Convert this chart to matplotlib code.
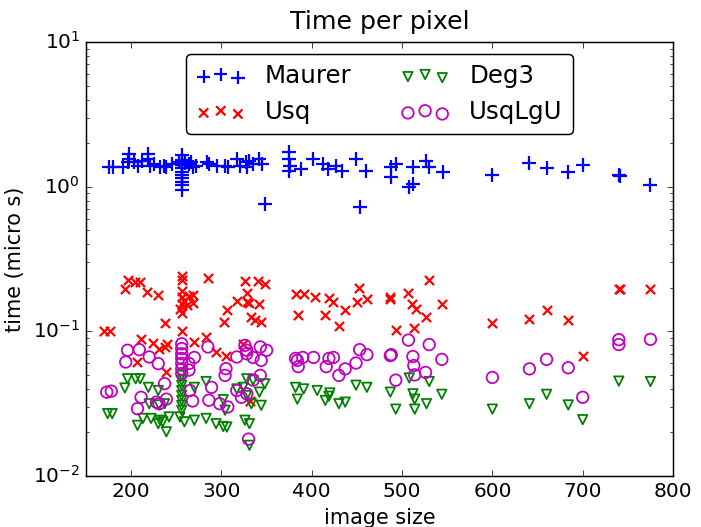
import matplotlib
matplotlib.use('Agg')
import matplotlib.pyplot as plt

# image size / time per pixel (micro s)
maurer_x = [175, 180, 191, 198, 198, 197, 203, 208, 212, 219, 219, 221, 225, 232, 236, 239, 245,
            256, 256, 256, 256, 256, 256, 256, 256, 256, 256, 253, 260, 264, 266, 269, 272,
            284, 286, 295, 304, 307, 317, 320, 327, 328, 331, 335, 342, 345, 348,
            375, 375, 376, 375, 388, 401, 412, 418, 427, 434, 449, 453, 460,
            488, 488, 493, 512, 508, 512, 527, 530, 545, 600, 641, 660, 684, 700, 740, 741, 775]
maurer_y = [1.37, 1.37, 1.37, 1.68, 1.55, 1.47, 1.47, 1.40, 1.51, 1.68, 1.55, 1.40, 1.43, 1.36, 1.40, 1.36, 1.43,
            1.66, 1.53, 1.41, 1.34, 1.27, 1.20, 1.14, 1.08, 1.03, 0.95, 1.47, 1.45, 1.43, 1.47, 1.36, 1.40,
            1.47, 1.43, 1.40, 1.40, 1.36, 1.55, 1.40, 1.47, 1.36, 1.51, 1.43, 1.55, 1.43, 0.76,
            1.73, 1.55, 1.40, 1.29, 1.33, 1.55, 1.43, 1.33, 1.40, 1.29, 1.55, 0.72, 1.29,
            1.36, 1.16, 1.43, 1.36, 0.99, 1.04, 1.51, 1.36, 1.26, 1.21, 1.45, 1.35, 1.26, 1.41, 1.21, 1.19, 1.02]

usq_x = [170, 177, 193, 197, 204, 210, 218, 230,
         211, 224, 231, 237, 240, 207, 239, 237,
         256, 256, 256, 256, 256, 256, 256, 258, 262, 264, 268, 268, 254,
         285, 283, 270, 294, 305, 303, 306, 317, 326, 328, 328, 330, 333, 337, 344, 341, 348, 342, 324, 332,
         382, 385, 391, 404, 419, 424, 415, 430, 437, 452, 450, 461,
         487, 487, 507, 511, 515, 530, 526, 544, 493, 513,
         600, 641, 660, 684, 700, 740, 741, 775]
usq_y = [0.100, 0.100, 0.197, 0.225, 0.219, 0.219, 0.187, 0.179,
         0.088, 0.083, 0.076, 0.078, 0.082, 0.061, 0.052, 0.114,
         0.240, 0.225, 0.190, 0.172, 0.155, 0.134, 0.100, 0.163, 0.151, 0.175, 0.177, 0.158, 0.142,
         0.232, 0.091, 0.084, 0.072, 0.068, 0.116, 0.140, 0.162, 0.222, 0.184, 0.160, 0.157, 0.125, 0.120, 0.116, 0.222, 0.213, 0.155, 0.082, 0.033,
         0.182, 0.129, 0.182, 0.173, 0.170, 0.160, 0.129, 0.109, 0.140, 0.200, 0.160, 0.168,
         0.168, 0.172, 0.184, 0.155, 0.143, 0.225, 0.125, 0.154, 0.102, 0.105,
         0.114, 0.122, 0.140, 0.120, 0.068, 0.197, 0.195, 0.197]

deg3_x = [174, 179, 193, 196, 205, 210, 219, 230, 207, 213, 222, 232, 235, 239, 230, 242, 237, 231, 220,
          256, 256, 256, 256, 256, 256, 256, 256, 254, 259, 270, 283, 294, 306, 302, 326, 331, 331,
          283, 270, 304, 302, 317, 324, 328, 335, 342, 348, 344, 333, 328,
          382, 384, 391, 406, 420, 419, 415, 430, 437, 449, 461,
          487, 493, 508, 512, 514, 514, 530, 527, 544, 600, 641, 660, 684, 700, 740, 775]
deg3_y = [0.027, 0.027, 0.0406, 0.047, 0.047, 0.047, 0.041, 0.039, 0.0224, 0.025, 0.025, 0.0243, 0.0237, 0.0202, 0.023, 0.0256, 0.0316, 0.031, 0.0316,
          0.0496, 0.0458, 0.0424, 0.039, 0.0361, 0.0333, 0.0308, 0.0284, 0.0256, 0.0237, 0.0243, 0.025, 0.023, 0.0218, 0.022, 0.0243, 0.023, 0.0163,
          0.045, 0.041, 0.0285, 0.0337, 0.040, 0.041, 0.047, 0.046, 0.038, 0.0434, 0.0308, 0.0316, 0.036,
          0.041, 0.034, 0.040, 0.039, 0.0375, 0.0356, 0.0333, 0.0316, 0.0324, 0.0424, 0.041,
          0.038, 0.029, 0.0476, 0.037, 0.034, 0.029, 0.045, 0.0316, 0.0367, 0.029, 0.0316, 0.0367, 0.031, 0.0245, 0.0453, 0.045]

lgu_x = [173, 178, 196, 194, 209, 220, 230, 211, 207, 237, 231, 228, 239,
         256, 256, 256, 256, 256, 256, 256,
         270, 264, 264, 268, 265,
         285, 286, 298, 307, 304, 305, 317, 326, 328, 328, 335, 344, 350, 343, 335, 343, 330, 328, 317, 322, 289,
         382, 385, 384, 390, 402, 419, 424, 416, 430, 437, 449, 453, 461,
         487, 488, 493, 507, 512, 513, 514, 530, 526, 544,
         600, 641, 660, 684, 700, 740, 740, 775]
lgu_y = [0.038, 0.0386, 0.074, 0.0614, 0.0747, 0.0665, 0.0598, 0.035, 0.0292, 0.0435, 0.0316, 0.0324, 0.034,
         0.082, 0.076, 0.070, 0.065, 0.060, 0.055, 0.051,
         0.066, 0.060, 0.054, 0.033, 0.039,
         0.078, 0.0334, 0.0316, 0.030, 0.0496, 0.0552, 0.0665, 0.080, 0.074, 0.070, 0.066, 0.063, 0.074, 0.078, 0.046, 0.0496, 0.018, 0.037, 0.039, 0.035, 0.041,
         0.065, 0.057, 0.063, 0.066, 0.066, 0.065, 0.066, 0.057, 0.0496, 0.055, 0.0604, 0.0747, 0.069,
         0.068, 0.069, 0.046, 0.087, 0.067, 0.058, 0.050, 0.081, 0.052, 0.064,
         0.048, 0.055, 0.064, 0.056, 0.035, 0.0876, 0.081, 0.088]

plt.style.use('classic')
dpi = 107
fig = plt.figure(figsize=(701 / dpi, 527 / dpi), dpi=dpi)
ax = fig.add_axes([86 / 701, 1 - 476 / 527, (673 - 86) / 701, (476 - 42) / 527])

ax.scatter(maurer_x, maurer_y, marker='+', s=80, c='b', linewidths=1.5, label='Maurer')
ax.scatter(usq_x, usq_y, marker='x', s=38, c='r', linewidths=1.5, label='Usq')
ax.scatter(deg3_x, deg3_y, marker='v', s=40, facecolors='none', edgecolors='g', linewidths=1.2, label='Deg3')
ax.scatter(lgu_x, lgu_y, marker='o', s=60, facecolors='none', edgecolors='m', linewidths=1.2, label='UsqLgU')

ax.set_yscale('log')
ax.set_xlim(150, 800)
ax.set_ylim(1e-2, 1e1)
ax.tick_params(labelsize=13.5)
ax.set_title('Time per pixel', fontsize=17, pad=9)
ax.set_xlabel('image size', fontsize=14)
ax.set_ylabel('time (micro s)', fontsize=14)
ax.legend(loc='upper center', ncol=2, scatterpoints=3, fancybox=True, fontsize=16.5)

fig.savefig('out.png', dpi=dpi)
